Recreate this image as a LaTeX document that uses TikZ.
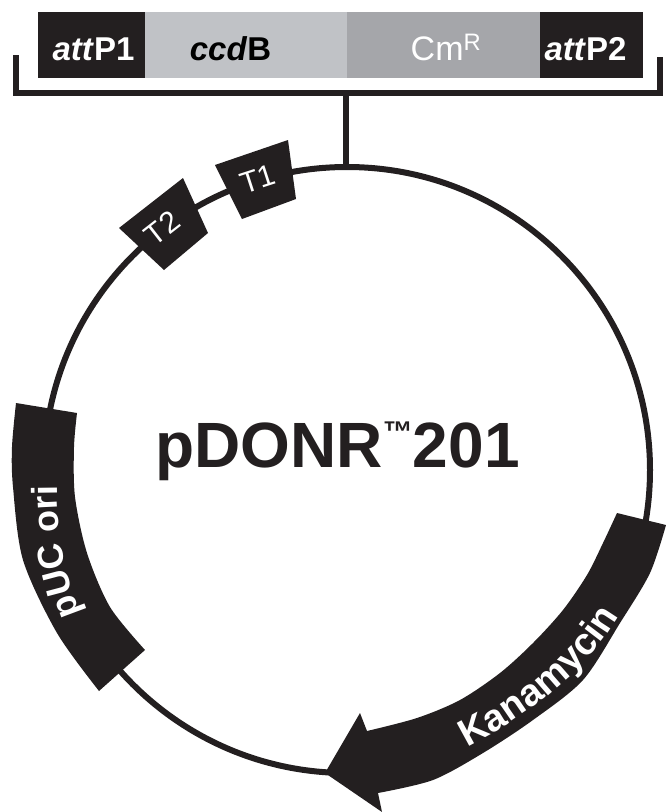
\documentclass[tikz,border=0pt]{standalone}
\usepackage{fontspec}
\setmainfont{Liberation Sans}
\usetikzlibrary{decorations.text}
\definecolor{ink}{HTML}{231F20}
\definecolor{lightseg}{HTML}{C0C2C6}
\definecolor{midseg}{HTML}{A5A6AA}
\tikzset{
  x=1pt,y=-1pt,
  wire/.style={draw=ink,line width=6pt},
  blk/.style={fill=ink,draw=none},
  lbl/.style={inner sep=0pt,anchor=base},
  seglabel/.style={lbl,font=\fontsize{33}{33}\selectfont\bfseries},
  whitetext/.style={text=white},
}
\begin{document}
\begin{tikzpicture}
\useasboundingbox (0,0) rectangle (666,812);
% insert segments
\fill[ink] (38,12) rectangle (145,78);
\fill[lightseg] (145,12) rectangle (347,78);
\fill[midseg] (347,12) rectangle (540,78);
\fill[ink] (540,12) rectangle (643,78);
\node[seglabel,whitetext] (attp1) at (93.5,60) {\textit{att}P1};
\node[seglabel,text=black] (ccdb) at (230.5,60) {\textit{ccd}B};
\node[lbl,font=\fontsize{34}{34}\selectfont,whitetext] (cmr) at (446,60) {Cm\textsuperscript{R}};
\node[seglabel,whitetext] (attp2) at (585.5,60) {\textit{att}P2};
% bracket and stem
\coordinate (stemtop) at (346,93);
\coordinate (stembot) at (346,167);
\draw[wire,line cap=butt] (16,55) -- (16,93) -- (660,93) -- (660,57);
\draw[wire] (stemtop) -- (stembot);
% plasmid circle
\draw[wire] (347,470) circle[radius=303];
% T boxes
\fill[blk] (215,165) -- (288,140) -- (296,199) -- (242,219) -- cycle;
\fill[blk] (183,178) -- (208,233) -- (164,270) -- (119,228) -- cycle;
\node[font=\fontsize{30}{30}\selectfont,inner sep=0pt,whitetext,rotate=18] (t1) at (258,179) {T1};
\node[font=\fontsize{30}{30}\selectfont,inner sep=0pt,whitetext,rotate=38] (t2) at (162,228) {T2};
% Kanamycin arrow
\fill[blk] plot[smooth] coordinates {(617,513) (603,543) (587,575) (563,610) (533,643) (500,673) (460,700) (417,718) (367,731)}
  -- (360,713) -- (325,773) -- (382,812) -- (378,793)
  -- plot[smooth] coordinates {(378,793) (433,780) (483,753) (533,720) (583,680) (620,623) (650,573) (666,525)} -- cycle;
\path[decorate,decoration={text along path,text align=center,text={|\fontsize{38}{38}\selectfont\bfseries\color{white}|Kanamycin}}]
  (462,750) .. controls (520,722) and (590,670) .. (622,610);
% pUC ori
\fill[blk] plot[smooth] coordinates {(16,403) (12,447) (13,487) (23,560) (57,633) (99,691)}
  -- (145,650)
  -- plot[smooth] coordinates {(145,650) (110,607) (87,553) (75,497) (74,447) (77,413)} -- cycle;
\path[decorate,decoration={text along path,text align=center,text={|\fontsize{36}{36}\selectfont\bfseries\color{white}|pUC ori}}]
  (80,612) .. controls (66,580) and (57,530) .. (57,487);
% title
\node[lbl,font=\fontsize{64}{64}\selectfont\bfseries,text=ink] (title) at (337.5,467) {pDONR\raisebox{25pt}{\fontsize{30}{30}\selectfont ™}201};
\end{tikzpicture}
\end{document}
